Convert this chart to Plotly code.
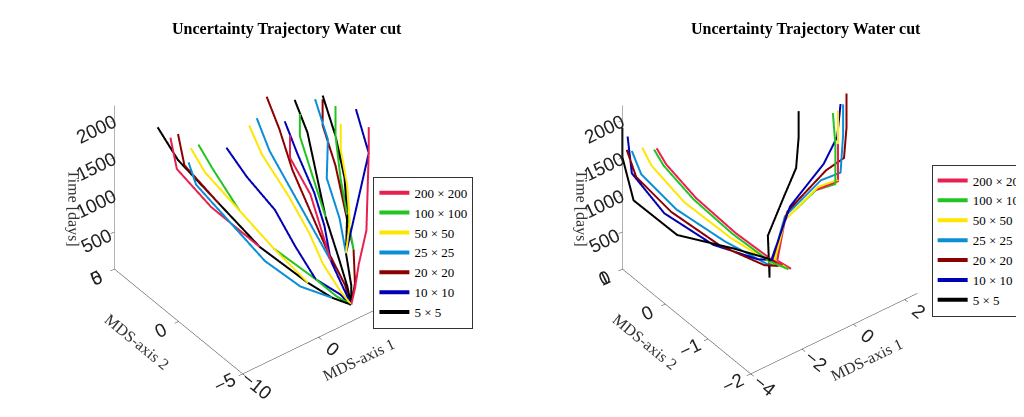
import plotly.graph_objects as go
from plotly.subplots import make_subplots

labels = ['200 × 200', '100 × 100', '50 × 50', '25 × 25', '20 × 20', '10 × 10', '5 × 5']
colors = ['#e8204f', '#22c422', '#ffe600', '#0a8fd6', '#8b0000', '#0000b4', '#000000']

# left panel: a few representative trajectories per resolution (x, y, time)
left_x = [
    [[6, 4, 2, -1, -4, -6, -6], [6, 5.5, 5, 4.5, 4, 3, 3], [6, 6.5, 7, 8, 9, 10, 10]],
    [[6, 4.5, 3, 0, -2, -3, -4], [6, 6, 6, 6, 6, 6, 6], [6, 7, 8, 8, 8, 9, 9]],
    [[6, 4, 2, 0, -2, -4, -5], [6, 5, 4, 3, 2, 1, 1], [6, 6.5, 7, 7.5, 8, 8, 8]],
    [[6, 4, 1, -2, -4, -6, -7], [6, 5.5, 5, 4, 3, 2, 2], [6, 6.5, 7, 7, 7, 8, 8]],
    [[6, 4, 2, -1, -3, -5, -5], [6, 6, 6, 5.5, 5, 5, 5], [6, 7, 8, 8.5, 9, 9, 9]],
    [[6, 5, 3, 2, 1, -1, -2], [6, 5.5, 5, 5, 4.5, 4, 4], [6, 6.5, 7, 8, 9, 10, 10]],
    [[6, 4, 2, -1, -3, -5, -6], [6, 6, 6, 6, 6.5, 7, 7], [6, 6.5, 7, 8, 8.5, 9, 9]],
]
left_y = [
    [[-4, -3.7, -3, -1, 1, 2.5, 3], [-4, -3.7, -3, -2.5, -2, -1, -1], [-4, -4, -4, -4, -3.5, -3, -3]],
    [[-4, -3.7, -3, -1.5, 0, 1.5, 2], [-4, -3.7, -3, -2, -1, 0, 0], [-4, -3.7, -3, -2.5, -2, -1, -1]],
    [[-4, -3.7, -3, -1.5, 0, 1.5, 2], [-4, -3.7, -3, -2.5, -1.5, 0, 1], [-4, -3.7, -3, -3, -2.5, -2, -2]],
    [[-4, -3.7, -3, -2, -0.5, 1, 1], [-4, -3.7, -3, -2, -1, 0, 1], [-4, -3.7, -3, -2.5, -1.5, -1, 0]],
    [[-4, -3.7, -3, -1, 1, 2.5, 3], [-4, -3.5, -2, -1, 0, 1, 2], [-4, -3.7, -3, -2, -1, 0, 0]],
    [[-4, -3.7, -3, -2, -1, 0, 1], [-4, -3.7, -3, -2.5, -2, -1, 0], [-4, -3.7, -3, -3, -3, -3, -2]],
    [[-4, -3.7, -3, -1, 1, 3, 4], [-4, -3.7, -3, -2, -1, 0, 1], [-4, -3.7, -3, -2.5, -2, -1, 0]],
]
left_t = [
    [[0, 150, 350, 700, 1100, 1500, 1850], [0, 200, 500, 900, 1300, 1700, 2000], [0, 200, 500, 900, 1300, 1700, 2050]],
    [[0, 150, 350, 700, 1100, 1500, 1800], [0, 200, 500, 900, 1300, 1700, 2000], [0, 200, 500, 900, 1300, 1700, 2100]],
    [[0, 150, 350, 700, 1100, 1500, 1800], [0, 200, 500, 900, 1300, 1700, 1950], [0, 200, 500, 900, 1300, 1700, 2050]],
    [[0, 150, 350, 700, 1100, 1500, 1850], [0, 200, 500, 900, 1300, 1700, 2000], [0, 200, 500, 900, 1300, 1700, 2100]],
    [[0, 150, 350, 700, 1100, 1500, 1850], [0, 200, 500, 900, 1300, 1700, 2000], [0, 200, 500, 900, 1300, 1700, 2050]],
    [[0, 150, 350, 700, 1100, 1500, 1800], [0, 200, 500, 900, 1300, 1700, 2000], [0, 200, 500, 900, 1300, 1700, 2150]],
    [[0, 150, 350, 700, 1100, 1500, 1850], [0, 200, 500, 900, 1300, 1700, 2000], [0, 200, 500, 900, 1300, 1700, 2100]],
]

# right panel: one trajectory per resolution
right_x = [
    [-3.0, -2.8, -2.3, -1.6, -1.0, -0.6, -0.8, 0.0, 1.2, 1.9, 1.9, 1.9],
    [-3.1, -2.9, -2.4, -1.7, -1.1, -0.7, -0.9, 0.0, 1.2, 1.8, 1.8, 1.7],
    [-3.4, -3.2, -2.6, -1.8, -1.1, -0.7, -0.9, 0.0, 1.3, 1.9, 1.9, 1.9],
    [-3.8, -3.6, -2.9, -2.0, -1.2, -0.8, -1.0, 0.0, 1.4, 2.0, 2.1, 2.1],
    [-4.0, -3.8, -3.1, -2.2, -1.3, -0.9, -1.0, 0.1, 1.6, 2.3, 2.4, 2.4],
    [-3.8, -3.8, -3.2, -2.3, -1.4, -1.0, -1.0, 0.2, 1.5, 2.2, 2.5, 2.6],
    [-4.0, -4.0, -3.9, -3.2, -2.0, -1.1, -1.1, -1.0, -0.2, 0.6, 0.7, 0.7],
]
right_y = [
    [0.8, 0.7, 0.3, -0.2, -0.7, -0.9, -0.7, -0.4, -0.4, -0.5, -0.5, -0.5],
    [0.8, 0.7, 0.3, -0.2, -0.7, -0.9, -0.7, -0.4, -0.4, -0.5, -0.5, -0.5],
    [0.9, 0.8, 0.4, -0.2, -0.7, -0.9, -0.7, -0.4, -0.4, -0.5, -0.5, -0.5],
    [0.9, 0.8, 0.4, -0.2, -0.7, -0.8, -0.7, -0.4, -0.4, -0.5, -0.5, -0.5],
    [0.9, 0.8, 0.4, -0.2, -0.7, -0.8, -0.7, -0.4, -0.4, -0.4, -0.4, -0.4],
    [1.0, 0.9, 0.5, -0.1, -0.6, -0.7, -0.7, -0.4, -0.4, -0.3, -0.2, -0.2],
    [1.0, 1.0, 0.8, 0.2, -0.4, -0.7, -0.7, -0.6, -0.5, -0.3, -0.3, -0.3],
]
right_t = [
    [1550, 1350, 1000, 650, 420, 330, 380, 650, 850, 900, 1400, 1850],
    [1550, 1350, 1000, 650, 420, 340, 390, 650, 850, 880, 1400, 1850],
    [1580, 1350, 950, 620, 410, 340, 400, 650, 880, 920, 1400, 1850],
    [1600, 1300, 900, 600, 400, 350, 400, 700, 950, 1000, 1500, 1900],
    [1650, 1300, 900, 580, 400, 370, 420, 750, 1050, 1100, 1500, 1950],
    [1750, 1300, 850, 560, 450, 420, 450, 800, 1150, 1350, 1700, 2150],
    [1900, 1500, 1000, 700, 600, 450, 200, 700, 1050, 1200, 1600, 1950],
]

fig = make_subplots(rows=1, cols=2, specs=[[{'type': 'scene'}, {'type': 'scene'}]],
                    horizontal_spacing=0.02)

for i in range(len(labels)):
    for j in range(len(left_x[i])):
        fig.add_trace(go.Scatter3d(x=left_x[i][j], y=left_y[i][j], z=left_t[i][j], mode='lines',
                                   line=dict(color=colors[i], width=4), name=labels[i],
                                   legendgroup=labels[i], showlegend=(j == 0), legend='legend'),
                      row=1, col=1)
    fig.add_trace(go.Scatter3d(x=right_x[i], y=right_y[i], z=right_t[i], mode='lines',
                               line=dict(color=colors[i], width=4), name=labels[i],
                               legend='legend2'), row=1, col=2)

serif = 'Liberation Serif'

def axis(title, rng, tickvals):
    return dict(title=dict(text=title, font=dict(family=serif, size=16, color='#333')), range=rng,
                tickvals=tickvals, showgrid=False, showbackground=False, zeroline=False,
                showline=True, linecolor='#333', ticks='outside', tickcolor='#333',
                tickfont=dict(family='Liberation Sans', size=15, color='#222'), showspikes=False)

camera = dict(eye=dict(x=-0.8, y=-1.04, z=0.76), center=dict(x=0, y=0, z=-0.3),
              projection=dict(type='orthographic'))
aspect = dict(x=1.15, y=1.15, z=1.15)
fig.update_layout(
    scene=dict(xaxis=axis('MDS-axis 1', [-10, 12], [-10, 0, 10]),
               yaxis=axis('MDS-axis 2', [-5, 5], [-5, 0, 5]),
               zaxis=axis('Time [days]', [0, 2200], [0, 500, 1000, 1500, 2000]),
               aspectmode='manual', aspectratio=aspect, camera=camera,
               domain=dict(x=[0.0, 0.5], y=[0.0, 0.9])),
    scene2=dict(xaxis=axis('MDS-axis 1', [-4, 2.5], [-4, -2, 0, 2]),
                yaxis=axis('MDS-axis 2', [-2, 1], [-2, -1, 0, 1]),
                zaxis=axis('Time [days]', [0, 2200], [0, 500, 1000, 1500, 2000]),
                aspectmode='manual', aspectratio=aspect, camera=camera,
                domain=dict(x=[0.5, 1.0], y=[0.0, 0.9])),
    legend=dict(x=0.36, y=0.61, xanchor='left', yanchor='top', bordercolor='#333', borderwidth=1,
                font=dict(family=serif, size=13, color='black'), bgcolor='white', tracegroupgap=0),
    legend2=dict(x=0.91, y=0.64, xanchor='left', yanchor='top', bordercolor='#333', borderwidth=1,
                 font=dict(family=serif, size=13, color='black'), bgcolor='white', tracegroupgap=0),
    annotations=[
        dict(text='<b>Uncertainty Trajectory Water cut</b>', x=0.275, y=1.0, xref='paper', yref='paper',
             xanchor='center', showarrow=False, font=dict(family=serif, size=16, color='black'), yanchor='top'),
        dict(text='<b>Uncertainty Trajectory Water cut</b>', x=0.786, y=1.0, xref='paper', yref='paper',
             xanchor='center', showarrow=False, font=dict(family=serif, size=16, color='black'), yanchor='top'),
    ],
    width=1024, height=417, margin=dict(l=0, r=0, t=10, b=0),
    paper_bgcolor='white',
)

fig.write_html("out.html")
